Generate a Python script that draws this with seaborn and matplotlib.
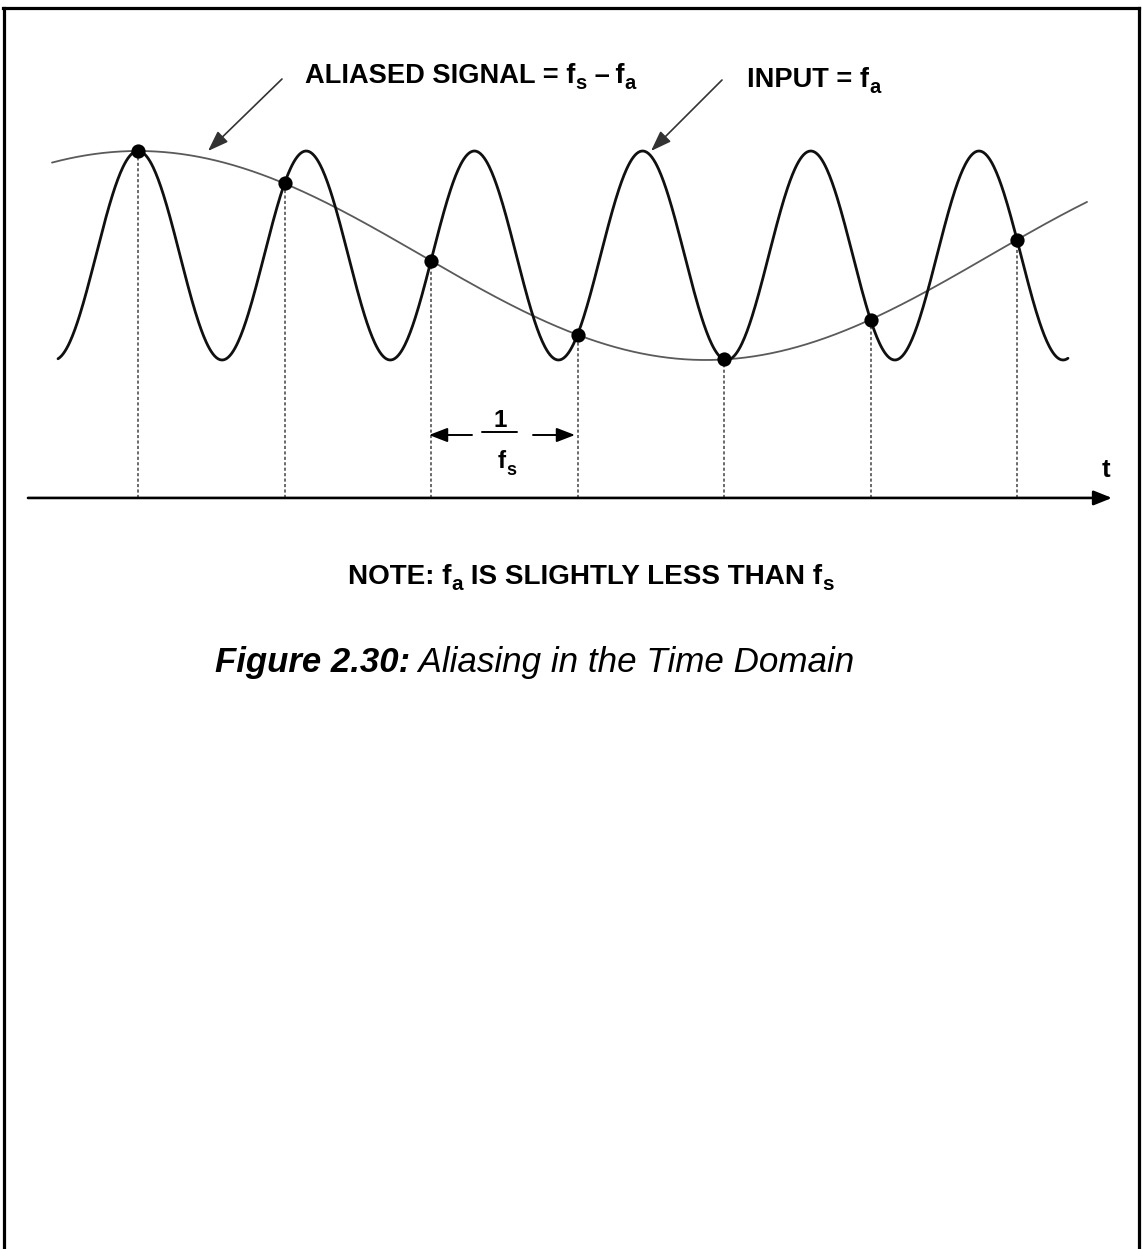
import numpy as np
import pandas as pd
import matplotlib
matplotlib.use("Agg")
import matplotlib.pyplot as plt
from matplotlib.lines import Line2D
from matplotlib.transforms import IdentityTransform
import seaborn as sns

# Signal parameters (time measured in sampling periods)
fs = 1.0                    # sampling frequency
fa = 0.871                  # input frequency, slightly below fs
alias_f = fs - fa           # aliased frequency
sample_n = np.arange(7)     # sampling instants
input_span = (-0.546, 6.348)
alias_span = (-0.587, 6.478)
axis_level = -2.32          # level of the time axis

# Labels as (text, is_subscript) runs
label_alias = [("ALIASED SIGNAL = f", False), ("s", True), (" \u2013\u2009f", False), ("a", True)]
label_input = [("INPUT = f", False), ("a", True)]
label_note = [("NOTE: f", False), ("a", True), (" IS SLIGHTLY LESS THAN f", False), ("s", True)]
label_period_num = "1"
label_period_den = [("f", False), ("s", True)]
label_time = "t"
caption_bold = "Figure 2.30:"
caption_rest = " Aliasing in the Time Domain"

W, H = 1142, 1249

sns.set_theme(style="white")
plt.rcParams["font.family"] = ["Liberation Sans", "DejaVu Sans"]
plt.rcParams["text.color"] = "black"

fig = plt.figure(figsize=(W / 100, H / 100), dpi=100)
fig.patch.set_facecolor("white")
ax = fig.add_axes([0, 0, 1, 1])

# scale of the drawing
px_t, t0_px = 146.5, 138.0
px_a, a0_py = 104.5, 255.5
ax.set_xlim(-t0_px / px_t, (W - t0_px) / px_t)
ax.set_ylim((a0_py - H) / px_a, a0_py / px_a)
ax.axis("off")

# waveforms
t_in = np.linspace(*input_span, 1200)
df_in = pd.DataFrame({"t": t_in, "v": np.cos(2 * np.pi * fa * t_in)})
t_al = np.linspace(*alias_span, 1200)
df_al = pd.DataFrame({"t": t_al, "v": np.cos(2 * np.pi * alias_f * t_al)})
sample_v = np.cos(2 * np.pi * fa * sample_n)
df_s = pd.DataFrame({"t": sample_n, "v": sample_v})

sns.lineplot(data=df_al, x="t", y="v", color="#5a5a5a", lw=1.3,
             estimator=None, sort=False, ax=ax, zorder=2)
sns.lineplot(data=df_in, x="t", y="v", color="#101010", lw=2.0,
             estimator=None, sort=False, ax=ax, zorder=3)

# sampling instants projected onto the time axis
ax.vlines(sample_n, axis_level, sample_v, colors="#6a6a6a",
          linestyles=(0, (1.6, 1.2)), lw=1.4, zorder=1)
sns.scatterplot(data=df_s, x="t", y="v", color="black", s=105,
                edgecolor="black", linewidth=0, ax=ax, zorder=5)

# time axis
x_left = (28 - t0_px) / px_t
x_right = (1112 - t0_px) / px_t
ax.annotate("", xy=(x_right, axis_level), xytext=(x_left, axis_level),
            arrowprops=dict(arrowstyle="-|>,head_length=0.55,head_width=0.22",
                            mutation_scale=20, lw=1.9, color="black",
                            shrinkA=0, shrinkB=0))


def pix(x, y):
    return (x, H - y)


def arrow(tail, tip, color, lw, scale, hl, hw):
    ax.annotate("", xy=pix(*tip), xycoords="figure pixels",
                xytext=pix(*tail), textcoords="figure pixels",
                arrowprops=dict(arrowstyle=f"-|>,head_length={hl},head_width={hw}",
                                mutation_scale=scale, lw=lw, color=color,
                                shrinkA=0, shrinkB=0))


# pointers to the two waveforms
arrow((282, 79), (208, 151), "#333333", 1.2, 18, 0.7, 0.25)
arrow((722, 80), (651, 151), "#333333", 1.2, 18, 0.7, 0.25)

# 1/fs interval marker
arrow((472, 435), (429, 435), "black", 1.4, 16, 0.7, 0.27)
arrow((533, 435), (575, 435), "black", 1.4, 16, 0.7, 0.27)
fig.add_artist(Line2D([482 / W, 517 / W], [1 - 432 / H, 1 - 432 / H],
                      color="black", lw=1.4))

ident = IdentityTransform()
renderer = fig.canvas.get_renderer()


def ptext(x, y, s, **kw):
    return fig.text(x, H - y, s, transform=ident, **kw)


def rich(x, y, runs, size, sub_scale=0.74, drop=6, center=False, **kw):
    """Draw text runs with subscripts, starting at pixel x on baseline y."""
    if center:
        total = 0.0
        for s, sub in runs:
            t = ptext(0, 0, s, fontsize=size * (sub_scale if sub else 1), **kw)
            total += t.get_window_extent(renderer).width
            t.remove()
        x -= total / 2
    for s, sub in runs:
        t = ptext(x, y + (drop if sub else 0), s,
                  fontsize=size * (sub_scale if sub else 1), va="baseline", **kw)
        x = t.get_window_extent(renderer).x1


rich(305, 83, label_alias, 19.6, fontweight="bold")
rich(747, 87, label_input, 19.6, fontweight="bold")
rich(348, 584, label_note, 20.1, fontweight="bold")

ptext(500, 427, label_period_num, fontsize=17.5, fontweight="bold",
      ha="center", va="baseline")
rich(507, 468, label_period_den, 17.5, drop=7, center=True, fontweight="bold")
ptext(1106, 477, label_time, fontsize=18.5, fontweight="bold",
      ha="center", va="baseline")

cap1 = ptext(215, 672, caption_bold, fontsize=25, fontweight="bold",
             fontstyle="italic", va="baseline")
bb = cap1.get_window_extent(renderer=renderer)
ptext(bb.x1, 672, caption_rest, fontsize=25.2, fontstyle="italic", va="baseline")

# page frame
for xs, ys in [([3, 1139], [8, 8]), ([4, 4], [8, H]), ([1139, 1139], [8, H])]:
    fig.add_artist(Line2D([x / W for x in xs], [1 - y / H for y in ys],
                          color="black", lw=2.3, solid_capstyle="projecting"))

fig.savefig("out.png", dpi=100, facecolor="white")
